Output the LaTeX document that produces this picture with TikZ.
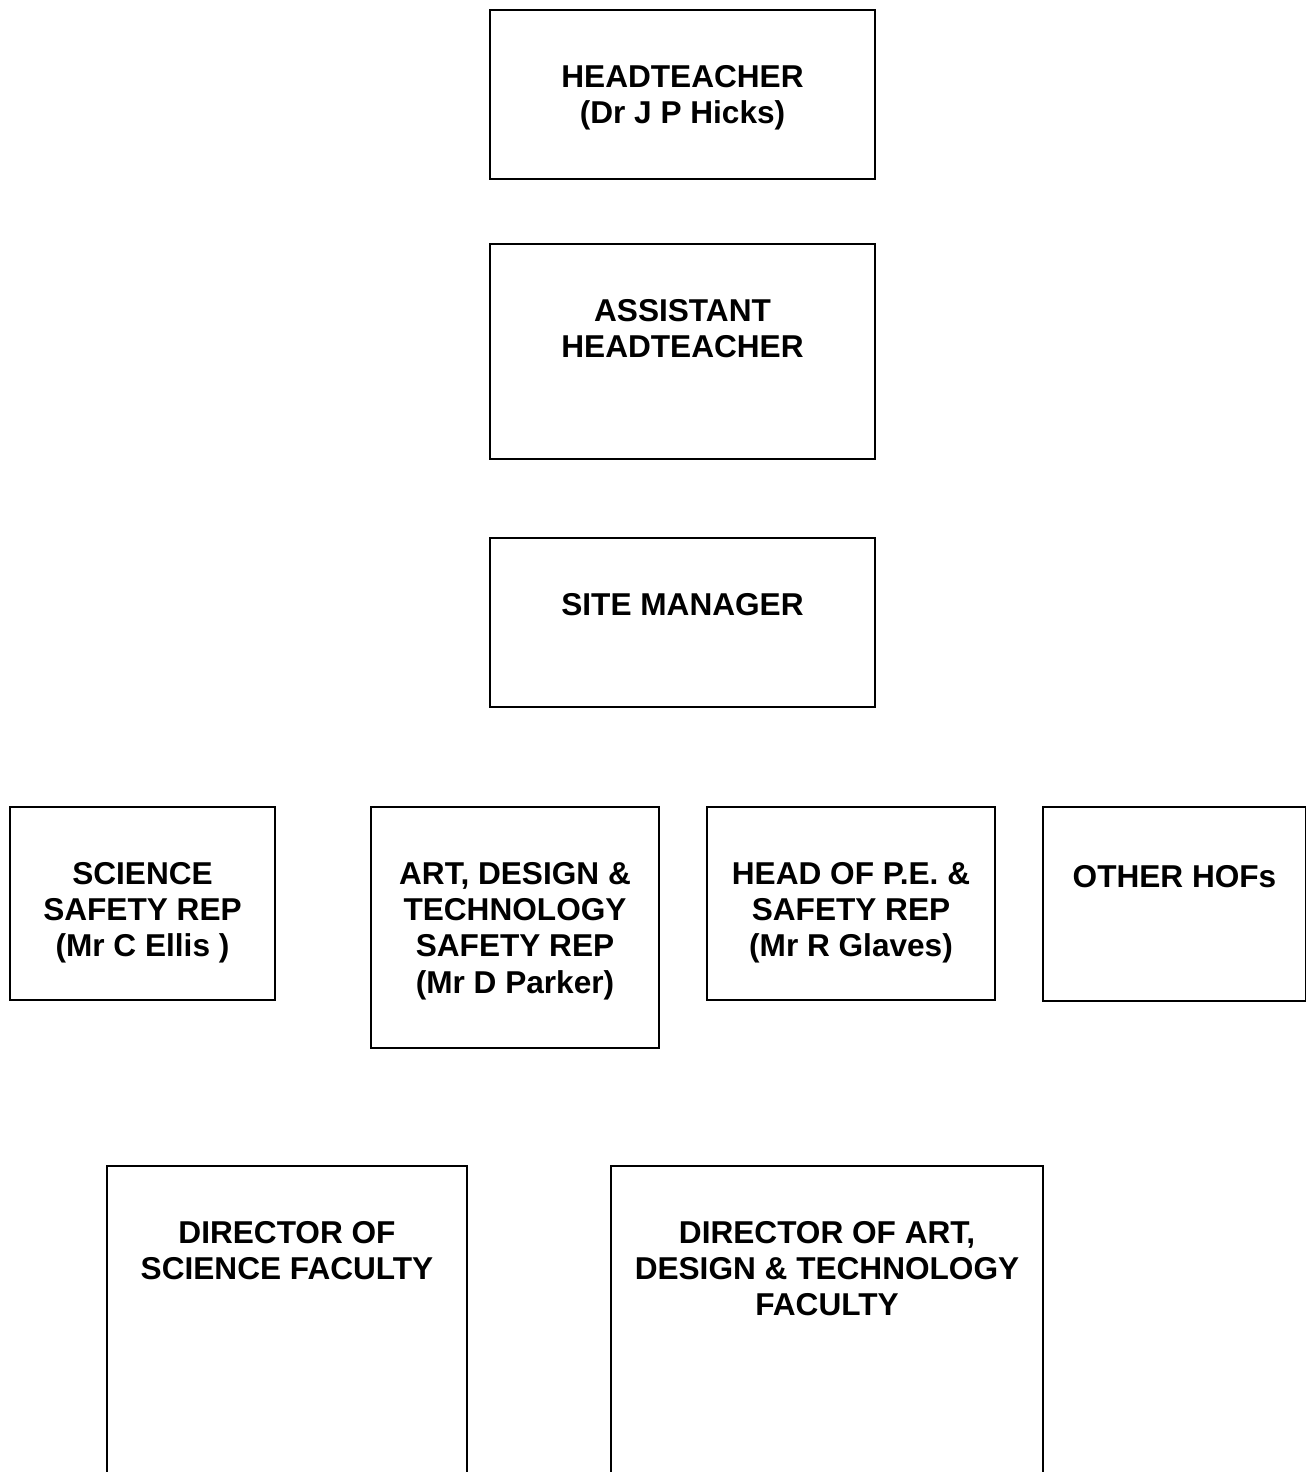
\documentclass[tikz,border=0pt]{standalone}
\usepackage{fontspec}
\setmainfont{Liberation Sans}
\begin{document}
\begin{tikzpicture}[x=0.5pt,y=-0.5pt,
  box/.style={draw=black,line width=1pt,rectangle,inner sep=0pt,anchor=north west},
  lbl/.style={anchor=base,align=center,inner sep=0pt,font=\fontsize{15.8}{18.2}\selectfont\bfseries}]
\useasboundingbox (0,0) rectangle (1306,1472);
\clip (0,0) rectangle (1306,1472);
% boxes
\node[box,minimum width=385pt*0.5,minimum height=169pt*0.5] (head) at (489,9) {};
\node[box,minimum width=385pt*0.5,minimum height=215pt*0.5] (asst) at (489,243) {};
\node[box,minimum width=385pt*0.5,minimum height=169pt*0.5] (site) at (489,537) {};
\node[box,minimum width=265pt*0.5,minimum height=193pt*0.5] (sci) at (9,806) {};
\node[box,minimum width=288pt*0.5,minimum height=241pt*0.5] (art) at (370,806) {};
\node[box,minimum width=288pt*0.5,minimum height=193pt*0.5] (pe) at (706,806) {};
\node[box,minimum width=263pt*0.5,minimum height=194pt*0.5] (oth) at (1042,806) {};
\node[box,minimum width=360pt*0.5,minimum height=340pt*0.5] (dsci) at (106,1165) {};
\node[box,minimum width=432pt*0.5,minimum height=340pt*0.5] (dart) at (610,1165) {};
% labels (base = last line baseline; first line baseline at 78px below box top, lines 36.4px apart)
\node[lbl] (headt) at ([yshift=-114.4*0.5pt]head.north) {HEADTEACHER\\(Dr J P Hicks)};
\node[lbl] (asstt) at ([yshift=-114.4*0.5pt]asst.north) {ASSISTANT\\HEADTEACHER};
\node[lbl] (sitet) at ([yshift=-78*0.5pt]site.north) {SITE MANAGER};
\node[lbl] (scit) at ([yshift=-150.8*0.5pt]sci.north) {SCIENCE\\SAFETY REP\\(Mr C Ellis )};
\node[lbl] (artt) at ([yshift=-187.2*0.5pt]art.north) {ART, DESIGN \&\\TECHNOLOGY\\SAFETY REP\\(Mr D Parker)};
\node[lbl] (pet) at ([yshift=-150.8*0.5pt]pe.north) {HEAD OF P.E. \&\\SAFETY REP\\(Mr R Glaves)};
\node[lbl] (otht) at ([yshift=-81*0.5pt]oth.north) {OTHER HOFs};
\node[lbl] (dscit) at ([yshift=-114.4*0.5pt]dsci.north) {DIRECTOR OF\\SCIENCE FACULTY};
\node[lbl] (dartt) at ([yshift=-150.8*0.5pt]dart.north) {DIRECTOR OF ART,\\DESIGN \& TECHNOLOGY\\FACULTY};
\end{tikzpicture}
\end{document}
